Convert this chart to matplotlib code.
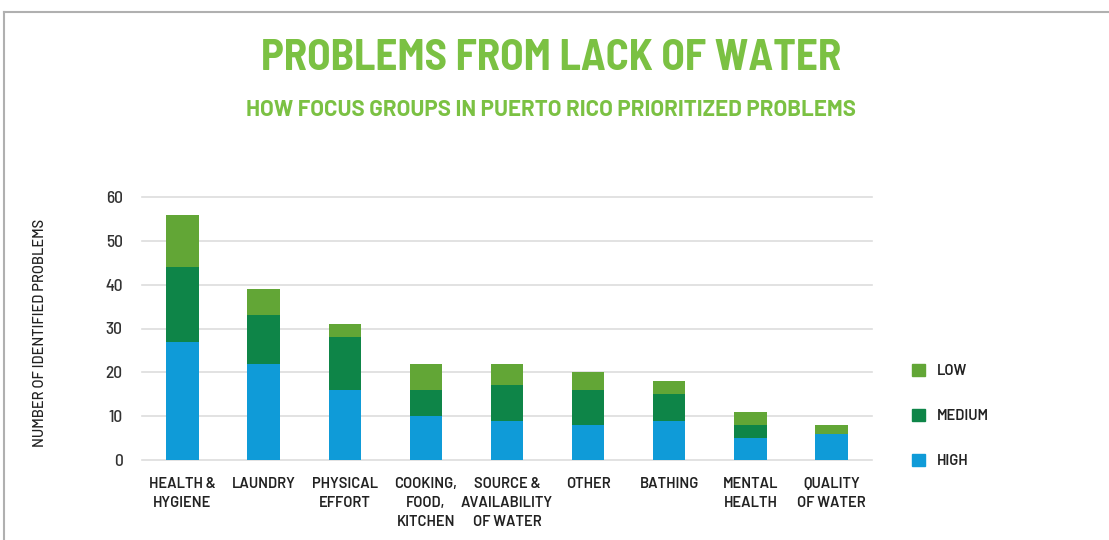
import matplotlib
matplotlib.use('Agg')
import matplotlib.pyplot as plt
from matplotlib.patches import Patch
from matplotlib.lines import Line2D
import numpy as np

categories = ['HEALTH &\nHYGIENE', 'LAUNDRY', 'PHYSICAL\nEFFORT', 'COOKING,\nFOOD,\nKITCHEN',
              'SOURCE &\nAVAILABILITY\nOF WATER', 'OTHER', 'BATHING', 'MENTAL\nHEALTH', 'QUALITY\nOF WATER']
high = [27, 22, 16, 10, 9, 8, 9, 5, 6]
medium = [17, 11, 12, 6, 8, 8, 6, 3, 0]
low = [12, 6, 3, 6, 5, 4, 3, 3, 2]
yticks = [0, 10, 20, 30, 40, 50, 60]

c_high = '#0f9bd8'
c_med = '#0e8548'
c_low = '#62a636'
title_green = '#7bc143'
text_col = '#222222'
semi = ['Barlow Semi Condensed', 'DejaVu Sans']
reg = ['Barlow', 'DejaVu Sans']

W, H = 1109, 540
fig = plt.figure(figsize=(W / 100, H / 100), dpi=100)

ax = fig.add_axes([142 / W, 1 - 460 / H, 730 / W, 263 / H])
x = np.arange(len(categories))
bw = 0.4
ax.bar(x, high, bw, color=c_high, zorder=3)
ax.bar(x, medium, bw, bottom=high, color=c_med, zorder=3)
ax.bar(x, low, bw, bottom=np.add(high, medium), color=c_low, zorder=3)

ax.set_xlim(-0.5, len(categories) - 0.5)
ax.set_ylim(0, 60)
ax.set_yticks(yticks)
ax.grid(axis='y', color='#dddddd', linewidth=1.2, zorder=0, clip_on=False)
for s in ax.spines.values():
    s.set_visible(False)
ax.tick_params(length=0)
ax.tick_params(axis='y', pad=14)
ax.tick_params(axis='x', pad=12)
ax.set_xticks(x)
ax.set_xticklabels(categories, family=reg, fontsize=10.5, color=text_col,
                   fontweight=600, linespacing=1.45, va='top')
for lab in ax.get_yticklabels():
    lab.set_family(semi)
    lab.set_fontsize(12.5)
    lab.set_fontweight(500)
    lab.set_color('#333333')

fig.text(40 / W, 1 - 333 / H, 'NUMBER OF IDENTIFIED PROBLEMS', rotation=90,
         ha='center', va='center', family=reg, fontsize=10.5, fontweight=500, color=text_col)

fig.text(551 / W, 1 - 58 / H, 'PROBLEMS FROM LACK OF WATER', ha='center', va='center',
         family=semi, fontsize=31, fontweight='bold', color=title_green)
fig.text(551 / W, 1 - 110 / H, 'HOW FOCUS GROUPS IN PUERTO RICO PRIORITIZED PROBLEMS',
         ha='center', va='center', family=reg, fontsize=16, fontweight='bold', color=title_green)

handles = [Patch(color=c_low, label='LOW'), Patch(color=c_med, label='MEDIUM'),
           Patch(color=c_high, label='HIGH')]
fig.legend(handles=handles, loc='center left', bbox_to_anchor=(899 / W, 1 - 416 / H),
           frameon=False, handlelength=0.9, handleheight=0.9, labelspacing=2.1,
           handletextpad=0.8, prop={'family': reg, 'size': 10.5, 'weight': 600},
           labelcolor=text_col)

# frame lines
fig.add_artist(Line2D([4 / W, 1], [1 - 12 / H, 1 - 12 / H], color='#b0b0b0', linewidth=1.5))
fig.add_artist(Line2D([4 / W, 4 / W], [0, 1 - 12 / H], color='#b0b0b0', linewidth=1.5))

fig.savefig('out.png', dpi=100)
